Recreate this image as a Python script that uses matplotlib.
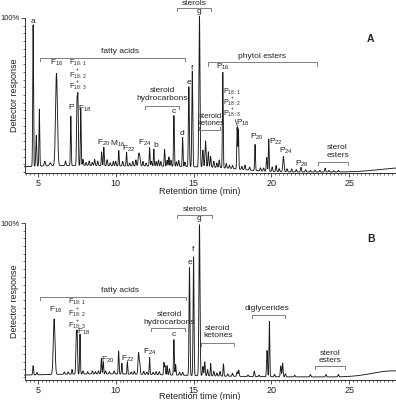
"""Two-panel GC chromatogram (panels A and B) with peak labels and compound-class brackets."""

import numpy as np
import matplotlib
matplotlib.use("Agg")
import matplotlib.pyplot as plt
from matplotlib.ticker import FixedLocator, MultipleLocator

plt.rcParams["font.family"] = ["Liberation Sans", "DejaVu Sans"]
plt.rcParams["mathtext.fontset"] = "custom"
plt.rcParams["mathtext.rm"] = "Liberation Sans"
plt.rcParams["mathtext.it"] = "Liberation Sans:italic"

# ---- panel A peaks: retention time (min), height (% of max), width (min)
a_rt = [4.70, 4.90, 5.10, 5.45, 5.80, 6.20, 6.78, 7.12, 7.52, 7.58, 7.76, 7.90,
        8.10, 8.30, 8.50, 8.65, 8.85, 9.10, 9.24, 9.45, 9.65, 9.85, 10.00, 10.20,
        10.45, 10.70, 10.90, 11.10, 11.30, 11.48, 11.55, 11.75, 11.95, 12.18, 12.30,
        12.45, 12.60, 12.75, 12.90, 13.14, 13.30, 13.42, 13.55, 13.74, 13.90, 14.05,
        14.30, 14.45, 14.70, 14.92, 15.38, 15.60, 15.77, 15.95, 16.10, 16.30, 16.50,
        16.65, 16.88, 17.10, 17.30, 17.50, 17.80, 17.88, 18.10, 18.30, 18.60, 18.95,
        19.30, 19.50, 19.70, 19.83, 20.05, 20.30, 20.50, 20.77, 21.00, 21.30, 21.60,
        21.90, 22.20, 22.50, 22.80, 23.10, 23.45, 23.70, 24.00, 24.30,
        7.0, 14.0, 17.0, 28.3]
a_height = [92, 20, 37, 3, 2, 60, 3, 32, 42, 40, 37, 4,
            2, 3, 2, 4, 3, 9, 12, 4, 2, 3, 3, 10,
            3, 9, 2, 3, 4, 7, 5, 3, 2, 12, 3,
            11, 3, 4, 3, 11, 4, 6, 4, 33, 3, 4,
            19, 3, 52, 62, 98, 11, 17, 10, 7, 4, 3,
            5, 62, 3, 2, 2, 27, 26, 2, 3, 2, 17,
            2, 2, 9, 21, 3, 4, 2, 10, 2, 2, 1.5,
            3, 1.5, 1, 1, 1, 2.5, 1, 0.8, 1,
            4.2, 2.2, 1.2, 2.6]
a_width = [0.025, 0.03, 0.025, 0.04, 0.05, 0.06, 0.03, 0.025, 0.03, 0.025, 0.025, 0.03,
           0.03, 0.03, 0.03, 0.03, 0.03, 0.025, 0.025, 0.03, 0.03, 0.03, 0.03, 0.025,
           0.03, 0.025, 0.03, 0.03, 0.03, 0.04, 0.04, 0.03, 0.03, 0.025, 0.03,
           0.025, 0.03, 0.03, 0.03, 0.025, 0.03, 0.025, 0.03, 0.025, 0.03, 0.03,
           0.025, 0.03, 0.03, 0.03, 0.035, 0.03, 0.035, 0.03, 0.03, 0.03, 0.03,
           0.03, 0.025, 0.03, 0.03, 0.03, 0.025, 0.025, 0.03, 0.03, 0.03, 0.025,
           0.03, 0.03, 0.03, 0.025, 0.03, 0.03, 0.03, 0.04, 0.03, 0.03, 0.03,
           0.03, 0.03, 0.03, 0.03, 0.03, 0.03, 0.03, 0.03, 0.03,
           4.5, 2.5, 1.5, 1.4]

# ---- panel B peaks
b_rt = [4.70, 4.95, 6.05, 6.70, 6.95, 7.20, 7.47, 7.53, 7.71, 7.90, 8.20, 8.50,
        8.70, 8.90, 9.08, 9.20, 9.35, 9.60, 9.90, 10.19, 10.40, 10.75, 11.00, 11.20,
        11.47, 11.55, 11.80, 12.00, 12.18, 12.40, 12.60, 12.80, 13.10, 13.17, 13.30,
        13.45, 13.74, 13.85, 14.10, 14.30, 14.74, 15.00, 15.38, 15.60, 15.72, 15.90,
        16.10, 16.30, 16.50, 16.70, 16.92, 17.20, 17.50, 17.80, 17.90, 18.50, 18.90,
        19.20, 19.72, 19.87, 20.20, 20.60, 20.72, 20.90, 21.50, 22.50, 23.50, 24.30,
        9.0, 27.8]
b_height = [6, 1.5, 36, 1.5, 1.5, 3, 26, 24, 26, 2, 1.5, 2,
            1.5, 2, 10, 8, 2, 1.5, 2, 15, 7, 8, 1.5, 2,
            14, 7, 2, 1.5, 11, 1.5, 2, 2, 8, 6, 6,
            4, 23, 7, 2, 2, 70, 77, 98, 6, 9, 4,
            8, 3, 2, 3, 8, 1.5, 2, 3, 4, 1, 3.5,
            1, 17, 36, 1.5, 7, 9, 2, 1, 1.5, 1.5, 1.5,
            2.0, 4.0]
b_width = [0.025, 0.03, 0.055, 0.03, 0.03, 0.025, 0.03, 0.025, 0.025, 0.03, 0.03, 0.03,
           0.03, 0.03, 0.025, 0.025, 0.03, 0.03, 0.03, 0.025, 0.025, 0.025, 0.03, 0.03,
           0.035, 0.03, 0.03, 0.03, 0.025, 0.03, 0.03, 0.03, 0.025, 0.025, 0.025,
           0.03, 0.025, 0.025, 0.03, 0.03, 0.03, 0.03, 0.035, 0.03, 0.03, 0.03,
           0.025, 0.03, 0.03, 0.03, 0.025, 0.03, 0.03, 0.03, 0.03, 0.03, 0.03,
           0.03, 0.03, 0.025, 0.03, 0.03, 0.03, 0.03, 0.03, 0.03, 0.03, 0.03,
           5.0, 1.3]

X_MIN, X_MAX = 4.15, 28.0
LINE = "#1a1a1a"
GRAY = "#808080"
FS = 6


def trace(rt, height, width, t):
    y = np.zeros_like(t)
    for c, h, w in zip(rt, height, width):
        y += h * np.exp(-0.5 * ((t - c) / w) ** 2)
    return y


def bracket(ax, x0, x1, y, drop):
    ax.plot([x0, x0, x1, x1], [y - drop, y, y, y - drop], color=GRAY, lw=0.7,
            clip_on=False)


def label(ax, x, y, s, size=FS, **kw):
    ax.text(x, y, s, ha="center", va="center", fontsize=size, color="#222222",
            clip_on=False, **kw)


def stacked(ax, x, ys, prefix):
    names = [prefix + r"$_{\mathrm{18:1}}$", "+", prefix + r"$_{\mathrm{18:2}}$", "+",
             prefix + r"$_{\mathrm{18:3}}$"]
    for s, y in zip(names, ys):
        label(ax, x, y, s, size=3.6 if s == "+" else 5.2)


def style_axes(ax, ymin, xlab_y):
    ax.set_xlim(X_MIN, X_MAX)
    ax.set_ylim(ymin, 100)
    for side in ("top", "right"):
        ax.spines[side].set_visible(False)
    for side in ("left", "bottom"):
        ax.spines[side].set_linewidth(0.7)
        ax.spines[side].set_color("#333333")
    ax.xaxis.set_major_locator(FixedLocator([5, 10, 15, 20, 25]))
    ax.xaxis.set_minor_locator(MultipleLocator(0.25))
    ax.yaxis.set_major_locator(FixedLocator([100]))
    ax.yaxis.set_minor_locator(MultipleLocator(5))
    ax.set_yticklabels(["100%"])
    ax.tick_params(which="major", length=3, width=0.6, labelsize=6.5, pad=1.5,
                   colors="#333333", labelcolor="#222222")
    ax.tick_params(axis="y", which="major", labelsize=5.5, pad=0.6)
    ax.tick_params(which="minor", length=1.6, width=0.5, colors="#333333")
    ax.set_xlabel("Retention time (min)", fontsize=6.5, color="#222222")
    ax.set_ylabel("Detector response", fontsize=6.5, color="#222222")
    ax.xaxis.set_label_coords(0.472, xlab_y)
    ax.yaxis.set_label_coords(-0.014, 0.5)


fig = plt.figure(figsize=(3.96, 4.0), dpi=100)
ax_a = fig.add_axes([0.062, 0.5675, 0.938, 0.3875])
ax_b = fig.add_axes([0.062, 0.05, 0.938, 0.3925])

t = np.linspace(X_MIN, X_MAX, 6000)
ax_a.plot(t, trace(a_rt, a_height, a_width, t), color=LINE, lw=0.65, clip_on=False)
ax_b.plot(t, trace(b_rt, b_height, b_width, t), color=LINE, lw=0.65, clip_on=False)
style_axes(ax_a, -0.65, -0.092)
style_axes(ax_b, -1.95, -0.078)

# ---- panel A annotations
ax = ax_a
label(ax, 4.68, 98, "a")
label(ax, 10.26, 78, "fatty acids")
bracket(ax, 5.13, 14.42, 74, 2)
label(ax, 6.22, 71, r"F$_{16}$")
stacked(ax, 7.56, [70.8, 66.4, 62.3, 58.8, 55], "F")
label(ax, 7.12, 42.2, "P")
label(ax, 8.02, 41, r"F$_{18}$")
label(ax, 9.23, 18.8, r"F$_{20}$")
label(ax, 10.13, 18.2, r"M$_{16}$")
label(ax, 10.83, 15, r"F$_{22}$")
label(ax, 11.86, 18.8, r"F$_{24}$")
label(ax, 12.56, 17.5, "b")
label(ax, 13.01, 50.3, "steroid\nhydrocarbons", linespacing=1.1)
bracket(ax, 11.86, 14.04, 42.9, 2)
label(ax, 13.72, 39, "c")
label(ax, 14.29, 24.7, "d")
label(ax, 14.71, 58.4, "e")
label(ax, 14.92, 67.5, "f")
label(ax, 15.35, 104, "g")
label(ax, 15.06, 109.7, "sterols")
bracket(ax, 13.91, 16.15, 106.5, 2)
label(ax, 26.39, 86.4, "A", size=7.5, fontweight="bold")
label(ax, 19.4, 74.7, "phytol esters")
bracket(ax, 15.9, 22.95, 71.4, 2.5)
label(ax, 16.86, 68.5, r"P$_{16}$")
stacked(ax, 17.5, [52, 48.6, 44.8, 41.3, 37.7], "P")
ax.plot([17.67, 17.85], [34, 28.8], color="#222222", lw=0.5, clip_on=False)
label(ax, 18.16, 31.8, r"P$_{18}$")
label(ax, 16.09, 33.8, "steroid\nketones", size=5.5, linespacing=1.0)
bracket(ax, 15.38, 16.71, 27.3, -2)
label(ax, 19.06, 22.7, r"P$_{20}$")
label(ax, 20.26, 19.5, r"P$_{22}$")
label(ax, 20.94, 13.6, r"P$_{24}$")
label(ax, 21.94, 5.2, r"P$_{26}$")
label(ax, 24.25, 13.3, "sterol\nesters", linespacing=1.1)
bracket(ax, 23.01, 24.9, 6.5, 2)

# ---- panel B annotations
ax = ax_b
label(ax, 10.26, 56, "fatty acids")
bracket(ax, 5.13, 14.49, 51.8, 2)
label(ax, 6.15, 43.5, r"F$_{16}$")
stacked(ax, 7.5, [48.7, 44.8, 40.9, 37, 33.1], "F")
label(ax, 7.95, 29.4, r"F$_{18}$")
label(ax, 9.49, 11, r"F$_{20}$")
label(ax, 10.77, 11.7, r"F$_{22}$")
label(ax, 12.18, 16.4, r"F$_{24}$")
label(ax, 13.46, 38.1, "steroid\nhydrocarbons", linespacing=1.1)
bracket(ax, 12.24, 14.42, 31.6, 2)
label(ax, 13.72, 27.3, "c")
label(ax, 14.74, 74.5, "e")
label(ax, 15.0, 82.9, "f")
label(ax, 15.38, 102.6, "g")
label(ax, 15.13, 109, "sterols")
bracket(ax, 13.91, 16.2, 105.2, 2)
label(ax, 26.39, 89.6, "B", size=7.5, fontweight="bold")
label(ax, 16.56, 29.3, "steroid\nketones", linespacing=1.1)
bracket(ax, 15.45, 17.63, 22.3, 2)
label(ax, 19.7, 44.6, "diglycerides")
bracket(ax, 18.74, 20.9, 40.3, 2)
label(ax, 23.76, 13, "sterol\nesters", linespacing=1.1)
bracket(ax, 22.8, 24.74, 7.3, 2)

fig.savefig("out.png", dpi=100)
